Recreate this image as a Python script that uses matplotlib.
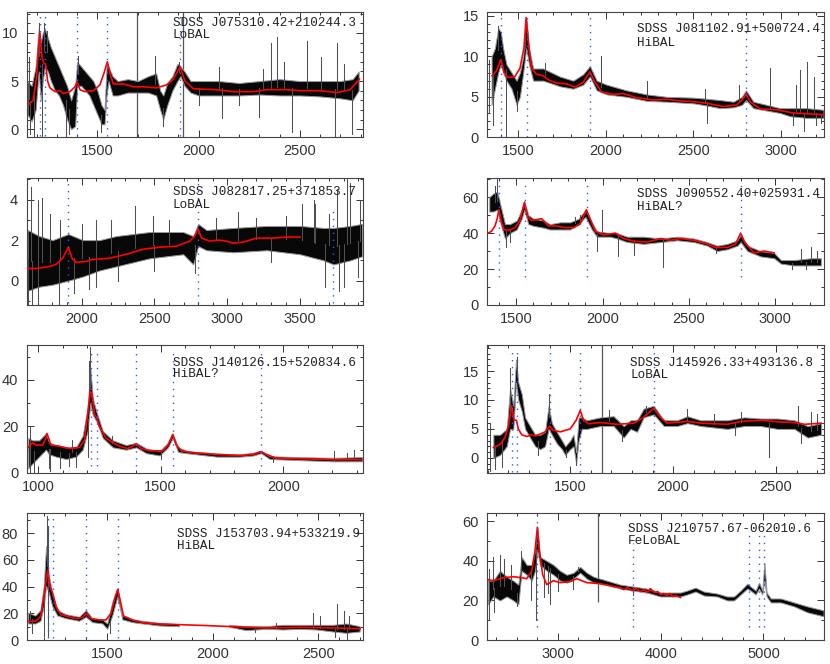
import numpy as np
import matplotlib
matplotlib.use("Agg")
import matplotlib.pyplot as plt
from matplotlib.ticker import MultipleLocator

# ---------------- Panel 1 : SDSS J075310.42+210244.3 ----------------
p1_name = "SDSS J075310.42+210244.3"
p1_type = "LoBAL"
p1_band_wave = [1155,1175,1195,1210,1220,1230,1240,1255,1270,1290,1310,1330,1350,1370,1390,1400,1420,1440,1460,1480,1500,1520,1535,1545,1555,1575,1600,1650,1700,1750,1790,1810,1825,1845,1870,1895,1910,1930,1960,2000,2100,2200,2300,2400,2500,2600,2700,2760,2790]
p1_band_lo = [1.5,0.8,2.0,6.0,3.0,5.0,6.5,6.0,5.0,4.0,3.5,2.5,1.0,0.0,0.3,4.5,4.5,4.0,3.5,2.5,1.5,0.5,0.5,3.5,5.0,3.5,3.5,3.8,3.8,3.8,3.5,2.0,1.0,2.5,4.0,5.0,5.5,4.5,3.8,3.5,3.5,3.5,3.6,3.5,3.5,3.4,3.2,3.0,4.0]
p1_band_hi = [5.0,4.5,6.5,10.5,9.0,10.0,10.5,9.5,8.5,7.5,6.5,5.5,4.5,3.0,4.5,7.0,6.5,6.0,5.5,5.0,4.0,2.5,2.0,6.5,6.5,5.5,5.0,5.2,5.0,5.5,5.8,4.0,3.5,4.8,5.5,6.8,6.5,6.0,5.0,5.0,5.0,4.8,5.0,5.2,5.0,5.0,5.0,5.2,6.0]
p1_spike_wave = [1160,1213,1236,1250,1405,1784,1905,2100,2357,2386,2420,2533,2605,2682,2720,2320,1165,1185,1225,1345,1360,1520,1825,2115,2300,2460,2674,2757,2000,2200]
p1_spike_flux = [7.5,11.0,11.0,10.2,7.6,7.6,7.0,6.5,9.0,9.6,7.0,9.2,7.5,9.0,6.8,6.3,-0.5,-0.8,-0.8,-0.8,-0.5,-0.3,0.3,1.2,1.3,-0.3,-0.9,-0.5,2.5,2.5]
p1_model_wave = [1163,1183,1200,1209,1216,1226,1236,1244,1254,1265,1290,1315,1331,1364,1389,1400,1414,1438,1480,1512,1532,1549,1562,1578,1628,1677,1727,1792,1842,1875,1908,1932,1974,2089,2171,2270,2336,2435,2501,2600,2682,2748,2794]
p1_model_flux = [2.6,3.0,5.5,8.5,10.0,7.5,6.8,6.8,5.0,4.3,3.9,4.0,3.7,3.9,4.4,4.9,4.1,3.9,4.0,4.6,5.8,7.0,5.8,4.7,4.7,4.4,4.4,4.3,4.6,5.2,6.5,5.0,4.2,4.1,3.9,3.9,4.1,4.1,4.0,4.0,3.8,4.1,5.2]
p1_lines = [1216,1240,1400,1549,1909]
p1_line_bottom = -0.76
p1_line_tops = [11.9,11.9,11.9,11.9,11.9]
p1_marks = [1697,1921]
p1_mark_bottom = -0.85

# ---------------- Panel 2 : SDSS J081102.91+500724.4 ----------------
p2_name = "SDSS J081102.91+500724.4"
p2_type = "HiBAL"
p2_band_wave = [1347,1366,1385,1400,1413,1432,1461,1490,1509,1528,1545,1561,1585,1642,1738,1814,1871,1909,1948,2005,2119,2234,2348,2501,2558,2654,2730,2778,2802,2844,2921,2997,3054,3150,3245]
p2_band_lo = [4,6,8,9,8,7,6,4,5,8,11,9,7,7,6.3,6,6.5,7.5,5.8,5.3,5.0,4.5,4.4,4.2,4.0,3.6,3.7,4.0,4.6,3.6,3.3,3.0,2.6,2.4,2.4]
p2_band_hi = [10,11,13.5,13,11,9,8,7,8,10,14.8,11,8.5,8.5,7.5,7,7.8,8.8,7,6.5,5.8,5.3,5.0,4.9,4.8,4.6,4.4,5.0,5.8,4.4,4.0,3.6,3.6,3.6,3.4]
p2_spike_wave = [1385,1537,1970,2234,2568,2759,2940,3112,3150,3188,3090,1650,1330,1356,1427,1495,2577,3131,3073,3200,3230,1335]
p2_spike_flux = [13.8,14.5,10.0,7.0,6.0,6.5,8.5,8.3,9.3,7.5,6.5,9.2,9.5,1.5,0.0,3.3,1.8,0.8,1.5,1.5,1.8,3.0]
p2_model_wave = [1350,1375,1400,1419,1442,1480,1509,1532,1545,1561,1576,1604,1642,1680,1719,1776,1824,1871,1909,1938,1976,2043,2100,2177,2272,2348,2425,2501,2577,2673,2749,2787,2802,2825,2883,2978,3073,3245]
p2_model_flux = [7.6,8.2,9.6,8.0,7.4,7.5,8.5,11,14.8,11,8.5,7.8,7.6,7.0,6.7,6.6,6.2,6.8,8.1,6.8,5.6,5.3,5.4,4.9,4.6,4.7,4.5,4.4,4.2,3.8,4.0,4.8,5.4,4.4,3.5,3.4,3.0,2.8]
p2_lines = [1400,1549,1909,2800]
p2_line_bottom = 0.1
p2_line_tops = [15.1,15.1,15.1,15.1]
p2_marks = []
p2_mark_bottom = 0.0

# ---------------- Panel 3 : SDSS J082817.25+371853.7 ----------------
p3_name = "SDSS J082817.25+371853.7"
p3_type = "LoBAL"
p3_band_wave = [1629,1709,1801,1909,2008,2122,2237,2352,2467,2582,2697,2766,2800,2857,3041,3270,3500,3661,3730,3844,3925]
p3_band_lo = [-0.5,-0.3,-0.2,0,0.2,0.5,0.7,0.9,1.1,1.2,1.3,0.8,1.7,1.5,1.4,1.5,1.3,1.0,0.8,1.0,1.2]
p3_band_hi = [2.5,2.2,2.0,2.3,2.0,2.0,2.2,2.3,2.4,2.4,2.4,2.2,2.8,2.5,2.6,2.7,2.7,2.6,2.6,2.7,2.8]
p3_spike_wave = [1652,1698,1730,1780,1850,2000,2100,2200,2368,2490,2600,2926,3075,3200,3400,3512,3594,3603,3753,3822,3845,3913,3700,1629,1660,1700,1847,1950,2050,2100,2250,2778,3672,3764,3800,3900,3300,2500]
p3_spike_flux = [4.6,4.0,4.1,3.3,3.0,2.8,3.0,3.0,3.7,3.2,3.0,3.1,3.4,3.1,3.2,3.8,4.0,3.8,4.5,5.0,4.8,4.0,3.3,-1.2,-1.2,-1.0,-1.2,-0.6,-0.4,-0.3,0.0,0.4,-0.3,-0.5,-0.3,0.2,0.9,0.5]
p3_model_wave = [1622,1686,1778,1824,1870,1909,1934,1962,2031,2077,2191,2306,2421,2536,2651,2743,2777,2800,2823,2880,2938,2995,3041,3110,3201,3316,3408,3500]
p3_model_flux = [0.6,0.6,0.7,0.8,1.1,1.65,1.1,0.9,0.95,1.05,1.1,1.3,1.55,1.65,1.7,1.95,2.2,2.55,2.1,1.95,2.0,1.95,1.85,1.9,2.1,2.1,2.15,2.15]
p3_lines = [1909,2800,3727]
p3_line_bottom = -1.12
p3_line_tops = [4.83,4.83,3.67]
p3_marks = []
p3_mark_bottom = 0.0

# ---------------- Panel 4 : SDSS J090552.40+025931.4 ----------------
p4_name = "SDSS J090552.40+025931.4"
p4_type = "HiBAL?"
p4_band_wave = [1344,1367,1390,1410,1435,1464,1503,1532,1547,1570,1600,1658,1696,1754,1812,1861,1901,1938,1967,2045,2084,2142,2238,2335,2432,2529,2606,2664,2723,2781,2800,2839,2916,2994,3033,3110,3207,3265]
p4_band_lo = [52,52,53,45,37,40,42,48,53,45,44,43,42,42,42,45,49,42,38,38,37,35,34,35,36,35,33,30,31,33,35,30,27,26,23,22,22,22]
p4_band_hi = [60,62,63,55,45,45,47,53,58,50,48,47,45,46,46,48,53,46,41,40,40,38,38,37,38,37,35,33,34,36,39,33,30,29,25,25,26,26]
p4_spike_wave = [1390,1380,1996,3150,3207,3240,1840,1870,1439,1464,1967,2089,2180,2349,2660,3100,3180]
p4_spike_flux = [70,66,53,31,32,30,49,50,32,35,30,27,28,21,29,20,20]
p4_model_wave = [1338,1357,1377,1390,1400,1412,1429,1454,1493,1522,1547,1566,1590,1648,1687,1735,1783,1832,1870,1907,1928,1958,2006,2074,2122,2180,2258,2335,2393,2451,2529,2606,2654,2723,2771,2800,2823,2877,2936,2994]
p4_model_flux = [40,41,44,48,53,47,42,41.5,43,47,57,49,47,48,44,44,43,43,45,53,48,41,39,40,37,35.5,35,37,36,37,36,34,32,32,34,40,35,29,30,29]
p4_lines = [1400,1549,1909,2800]
p4_line_bottom = 15.8
p4_line_tops = [67.8,67.8,67.8,67.8]
p4_marks = []
p4_mark_bottom = 0.0

# ---------------- Panel 5 : SDSS J140126.15+520834.6 ----------------
p5_name = "SDSS J140126.15+520834.6"
p5_type = "HiBAL?"
p5_band_wave = [960,977,1004,1032,1045,1073,1114,1155,1182,1202,1213,1223,1239,1264,1305,1359,1400,1441,1496,1530,1549,1571,1605,1728,1823,1878,1909,1945,2069,2205,2321]
p5_band_lo = [2,4,7,10,8,7,6,7,10,18,30,25,22,15,11,10,11,8.5,7.5,11,15,9,8.5,7,7,7.5,8.5,6,5.5,5,5]
p5_band_hi = [15,14,14,17,13,12,11,11,16,28,45,32,26,18,14,12,13,10.5,9.5,13,17,11,9.5,8.3,8,8.7,9.5,7.2,6.8,6.5,6.8]
p5_spike_wave = [965,1212,1208,2205,2290,2260,1300,1140,965,985,1045,1090,1125,1155,1202,1050,1500,1960]
p5_spike_flux = [20,54,48,9.5,10,8.5,16,14,0,0.5,2,2,3,2.5,7,1,6,4.5]
p5_model_wave = [960,977,990,1004,1018,1032,1036,1043,1052,1086,1127,1168,1189,1202,1213,1220,1230,1239,1250,1277,1305,1332,1366,1386,1400,1421,1455,1509,1530,1549,1564,1585,1632,1728,1823,1878,1909,1931,1972,2069,2205,2321]
p5_model_flux = [11,13,12,12,12,15,17,15,12,11.5,10.5,11,14,25,35,34,25,24,20,15,13,11.5,10.5,11.5,12.5,10.5,9.5,9.5,12,16.5,12,9.5,8.7,8,7.5,8,9.2,8,6.3,6.1,5.7,5.7]
p5_lines = [1216,1240,1400,1549,1909]
p5_line_bottom = 2.9
p5_line_tops = [53.6,53.6,53.6,53.6,53.6]
p5_marks = []
p5_mark_bottom = 0.0

# ---------------- Panel 6 : SDSS J145926.33+493136.8 ----------------
p6_name = "SDSS J145926.33+493136.8"
p6_type = "LoBAL"
p6_band_wave = [1127,1159,1192,1208,1224,1237,1248,1265,1281,1305,1330,1354,1378,1395,1411,1435,1460,1476,1500,1516,1529,1541,1557,1581,1646,1711,1760,1793,1825,1857,1906,1955,2020,2069,2134,2264,2345,2426,2507,2589,2654,2719]
p6_band_lo = [0,0.5,2,5,5,13,10,8,5,3.5,2,1.5,2,5,4,2.5,1.5,0.5,1.5,2,-1,3,5,5,5.5,5.5,3.5,5,4.5,7,7.5,5.5,5.5,6,5.5,5,5.5,5.5,5,5,3.5,4]
p6_band_hi = [4,4,5,12,9,17,13,11,7,5.5,4,4,4.5,9,6,4.5,3,2,3,4,1,7,7,6.5,7,7.2,5.5,6.5,6.5,8.5,9,6.5,6.5,7.2,6.5,6.5,7,6.8,6.8,6.5,5.5,6]
p6_spike_wave = [1110,1208,1240,1395,2069,2329,2605,2670,2700,1870,1690,2200,1110,1135,1170,1529,2467,2622,1750,1345,1480,2300]
p6_spike_flux = [6,15.5,17.5,11,8.5,8,9,8,7.5,9,8.2,7.5,-2.2,-2.0,-1.5,-1.3,0.2,2.5,3,0.5,0.2,4]
p6_model_wave = [1127,1159,1183,1200,1216,1227,1239,1248,1265,1289,1313,1330,1354,1378,1400,1416,1452,1500,1529,1549,1565,1589,1646,1728,1809,1857,1906,1938,1971,2069,2134,2264,2329,2426,2524,2589,2638,2719]
p6_model_flux = [1.8,2.3,3.5,5.5,9.0,6.5,6.5,5.0,4.0,3.7,4.0,3.8,4.1,4.5,5.5,4.8,4.5,5.0,6.5,8.2,6.5,5.9,6.1,5.8,6.0,7.0,8.6,7.0,6.0,6.3,6.0,5.8,6.3,6.5,6.2,6.1,5.8,6.0]
p6_lines = [1216,1240,1400,1549,1909]
p6_line_bottom = -2.5
p6_line_tops = [18.6,18.6,18.6,18.6,18.6]
p6_marks = [1655]
p6_mark_bottom = -2.6

# ---------------- Panel 7 : SDSS J153703.94+533219.9 ----------------
nan = float("nan")
p7_name = "SDSS J153703.94+533219.9"
p7_type = "HiBAL"
p7_band_wave = [1126,1160,1184,1200,1211,1224,1240,1264,1303,1367,1400,1430,1478,1501,1525,1549,1573,1620,1668,1747,1842,nan,2080,2160,2255,2334,2413,2493,2572,2635,2699]
p7_band_lo = [12,12,14,25,40,35,25,18,16,14,17,13,12,8,18,32,15,13,12,10.5,10,nan,9.5,7,8,7.5,8,7.5,6,5,6]
p7_band_hi = [20,18,22,40,70,48,35,22,19,17,22,16,15,12,28,38,18,15,14,12.5,11.5,nan,11,10,10,11,11,11,11,12,10]
p7_spike_wave = [1211,1220,2475,2510,2590,2620,2645,1130,2300,1140,1200,1216,1510,2580,2635,2200]
p7_spike_flux = [93,85,20,18,27,22,18,22,13,5,3,3,5,2,1,6]
p7_model_wave = [1126,1160,1184,1200,1216,1227,1240,1256,1279,1303,1351,1383,1400,1422,1462,1493,1517,1536,1549,1560,1576,1620,1668,1747,1937,2096,2255,2413,2572,2699]
p7_model_flux = [14,14,18,35,52,40,35,25,19,18,16,17,20,16,15,15,20,32,38,30,18,15,13,12,11,10,9,9.5,9,8.5]
p7_lines = [1216,1240,1400,1549]
p7_line_bottom = 1.25
p7_line_tops = [92.5,92.5,92.5,92.5]
p7_marks = []
p7_mark_bottom = 0.0

# ---------------- Panel 8 : SDSS J210757.67-062010.6 ----------------
p8_name = "SDSS J210757.67-062010.6"
p8_type = "FeLoBAL"
p8_band_wave = [2322,2371,2436,2501,2566,2615,2647,2696,2745,2777,2800,2826,2891,2956,3021,3086,3151,3216,3281,3347,3477,3607,3737,3867,3997,4127,4192,4257,4339,4420,4550,4648,4713,4778,4843,4875,4924,4957,4989,5009,5031,5071,5168,5298,5428,5585]
p8_band_lo = [18,22,20,22,20,18,35,33,30,35,45,38,35,33,30,29,31,34,31,29,28,26,25,24,22,22,22,23,24.5,22.5,22,20,20,23,26,25,23,26,23,30,22,19,19,17,14,12]
p8_band_hi = [30,30,35,32,30,28,42,38,38,45,57,42,40,38,35,33,34,37,34,32,30,28,27,26,24,24,24,25,26.5,24.5,23.5,22,22,25,28.5,27,25,29,25,39,24,21,21,19,17,15]
p8_spike_wave = [2371,2436,2480,2540,2640,2330,3200,2330,2790,2740,2860,2920,2900,3000,3150,3727,2600,2380]
p8_spike_flux = [42,43,41,38,45,36,37,10,10,20,22,18,24,25,26,23,17,14]
p8_model_wave = [2322,2371,2468,2566,2647,2696,2745,2777,2800,2820,2852,2891,2956,3021,3119,3184,3281,3412,3542,3607,3640,3680,3720,3760,3800,3840,3870,3900,3940,3970,4000,4030,4060,4090,4120,4150,4192]
p8_model_flux = [30.5,30,31.5,32,31.5,31,35,45,57,45,33,28,30,29,29.5,31,29,28.5,27,26.5,25.5,26.5,25,26,24.5,25.5,24,26,24,24.5,23,23.5,22.5,23.5,22,22.5,21.5]
p8_lines = [2800,3727,4861,4959,5007]
p8_line_bottom = 6.8
p8_line_tops = [64,49,54,54,54]
p8_marks = [3389]
p8_mark_bottom = 19

# ---------------- layout (positions / axes ranges / tick steps) ----------------
layout = [
    dict(pos=[0.032, 0.7932, 0.405, 0.189], xlim=(1150, 2810), ylim=(-0.85, 12.2), xs=(500, 100), ys=(5, 1), txt=(0.435, 0.907, 0.815)),
    dict(pos=[0.587, 0.7932, 0.406, 0.189], xlim=(1322, 3249), ylim=(0, 15.5), xs=(500, 100), ys=(5, 1), txt=(0.444, 0.86, 0.753)),
    dict(pos=[0.032, 0.5407, 0.405, 0.1908], xlim=(1622, 3930), ylim=(-1.2, 5.05), xs=(500, 100), ys=(2, 1), txt=(0.435, 0.895, 0.79)),
    dict(pos=[0.587, 0.5407, 0.406, 0.1908], xlim=(1332, 3284), ylim=(0, 70.5), xs=(500, 100), ys=(20, 10), txt=(0.445, 0.874, 0.777)),
    dict(pos=[0.032, 0.2877, 0.405, 0.1928], xlim=(953, 2324), ylim=(0, 55), xs=(500, 100), ys=(20, 10), txt=(0.435, 0.857, 0.77)),
    dict(pos=[0.587, 0.2877, 0.406, 0.1928], xlim=(1097, 2734), ylim=(-2.6, 19.5), xs=(500, 100), ys=(5, 1), txt=(0.424, 0.857, 0.765)),
    dict(pos=[0.032, 0.0361, 0.405, 0.1913], xlim=(1116, 2711), ylim=(0, 95), xs=(500, 100), ys=(20, 10), txt=(0.447, 0.835, 0.737)),
    dict(pos=[0.587, 0.0361, 0.406, 0.1913], xlim=(2312, 5591), ylim=(0, 64.2), xs=(1000, 200), ys=(20, 10), txt=(0.418, 0.874, 0.777)),
]

g = globals()
panels = []
for i in range(1, 9):
    keys = ["name", "type", "band_wave", "band_lo", "band_hi", "spike_wave", "spike_flux",
            "model_wave", "model_flux", "lines", "line_bottom", "line_tops", "marks", "mark_bottom"]
    panels.append({k: g["p%d_%s" % (i, k)] for k in keys})

plt.rcParams["font.family"] = ["Liberation Sans", "DejaVu Sans"]
fig = plt.figure(figsize=(8.3, 6.64), dpi=100)

for P, L in zip(panels, layout):
    ax = fig.add_axes(L["pos"])
    w = np.array(P["band_wave"], float)
    lo = np.array(P["band_lo"], float)
    hi = np.array(P["band_hi"], float)
    for m in P["marks"]:
        ax.vlines(m, P["mark_bottom"], L["ylim"][1], color="#555555", lw=0.9, zorder=1)
    ax.fill_between(w, lo, hi, facecolor="#080808", edgecolor="#999999", linewidth=0.7, zorder=2)
    ok = ~np.isnan(w)
    mid = 0.5 * (lo[ok] + hi[ok])
    for sw, sf in zip(P["spike_wave"], P["spike_flux"]):
        base = np.interp(sw, w[ok], mid)
        ax.plot([sw, sw], [base, sf], color="#505050", lw=0.75, zorder=2)
    ax.plot(P["model_wave"], P["model_flux"], color="#ff0000", lw=1.2, zorder=3)
    for lw_, top in zip(P["lines"], P["line_tops"]):
        ax.plot([lw_, lw_], [P["line_bottom"], top], color="#3355ff", lw=1.0,
                linestyle=(0, (1, 4)), zorder=4)
    ax.set_xlim(*L["xlim"])
    ax.set_ylim(*L["ylim"])
    ax.xaxis.set_major_locator(MultipleLocator(L["xs"][0]))
    ax.xaxis.set_minor_locator(MultipleLocator(L["xs"][1]))
    ax.yaxis.set_major_locator(MultipleLocator(L["ys"][0]))
    ax.yaxis.set_minor_locator(MultipleLocator(L["ys"][1]))
    ax.tick_params(which="both", direction="in", top=True, right=True, colors="#333333",
                   labelsize=10.5, width=0.7)
    ax.tick_params(which="major", length=5, pad=5)
    ax.tick_params(which="minor", length=2.5)
    ax.tick_params(axis="y", pad=6)
    for s in ax.spines.values():
        s.set_color("#444444")
        s.set_linewidth(0.8)
    tx, ty1, ty2 = L["txt"]
    ax.text(tx, ty1, P["name"], transform=ax.transAxes, family="Liberation Mono",
            fontsize=9.1, color="#222222", va="center", ha="left", zorder=5)
    ax.text(tx, ty2, P["type"], transform=ax.transAxes, family="Liberation Mono",
            fontsize=9.1, color="#222222", va="center", ha="left", zorder=5)

fig.savefig("out.png", dpi=100)
